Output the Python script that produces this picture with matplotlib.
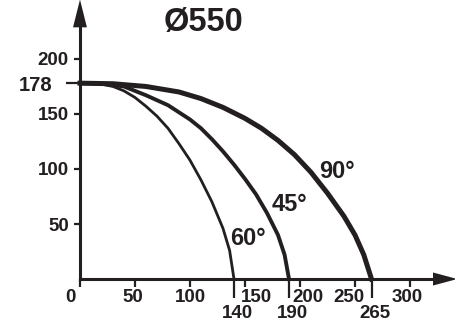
import matplotlib.pyplot as plt
from matplotlib.transforms import ScaledTranslation

# curves (x, y)
x60 = [0, 10, 20, 30, 40, 50, 60, 70, 80, 90, 100, 110, 120, 130, 136, 140]
y60 = [178, 178, 177, 175, 171, 165, 157, 148, 137, 123, 108, 90, 70, 46, 26, 0]
x45 = [0, 20, 40, 60, 80, 100, 110, 120, 130, 140, 150, 160, 170, 180, 186, 190]
y45 = [178, 177.5, 175, 167, 158, 145, 137, 127, 116, 104, 91, 77, 60, 40, 22, 0]
x90 = [0, 30, 60, 90, 110, 130, 150, 165, 180, 195, 210, 225, 240, 250, 258, 265]
y90 = [178, 177.5, 175, 170, 164, 156, 146, 137, 126, 113, 97, 78, 57, 40, 22, 0]

xticks = [0, 50, 100, 150, 200, 250, 300]
xticks_end = [140, 190, 265]
yticks = [50, 100, 150, 200]
ytick_top = [178]

ink = '#231f20'
plt.rcParams['font.family'] = ['Liberation Sans', 'DejaVu Sans']
plt.rcParams['font.weight'] = 'bold'

fig = plt.figure(figsize=(4.55, 3.25), dpi=100)
ax = fig.add_axes([0, 0, 1, 1])
ax.set_xlim(-72.7, 340.9)
ax.set_ylim(-41.8, 253.6)
ax.patch.set_alpha(0)

ax.plot(x60, y60, color=ink, lw=2.0, solid_joinstyle='round')
ax.plot(x45, y45, color=ink, lw=2.8, solid_joinstyle='round')
ax.plot(x90, y90, color=ink, lw=3.6, solid_joinstyle='round')

for s in ['top', 'right']:
    ax.spines[s].set_visible(False)
ax.spines['left'].set_position(('data', 0))
ax.spines['bottom'].set_position(('data', 0))
ax.spines['left'].set_bounds(0, 235)
ax.spines['bottom'].set_bounds(0, 325)
for s in ['left', 'bottom']:
    ax.spines[s].set_linewidth(2.2)
    ax.spines[s].set_color(ink)

# arrow heads
ax.annotate('', xy=(0, 254), xytext=(0, 225),
            arrowprops=dict(arrowstyle='-|>,head_length=2.0,head_width=0.5',
                            mutation_scale=10, lw=0, fc=ink, ec=ink,
                            shrinkA=0, shrinkB=0), annotation_clip=False)
ax.annotate('', xy=(343, 0), xytext=(315, 0),
            arrowprops=dict(arrowstyle='-|>,head_length=1.75,head_width=0.47',
                            mutation_scale=10, lw=0, fc=ink, ec=ink,
                            shrinkA=0, shrinkB=0), annotation_clip=False)

ax.set_xticks(xticks, [str(v) for v in xticks])
ax.set_xticks(xticks_end, [str(v) for v in xticks_end], minor=True)
ax.set_yticks(yticks, [str(v) for v in yticks])
ax.set_yticks(ytick_top, [str(v) for v in ytick_top], minor=True)

ax.tick_params(which='both', color=ink, labelcolor=ink, labelsize=13.5, width=1.6)
ax.tick_params(axis='x', which='major', length=5.5, pad=1.5)
ax.tick_params(axis='x', which='minor', length=14, pad=4.5)
ax.tick_params(axis='y', which='major', length=4.5, pad=3.5)
ax.tick_params(axis='y', which='minor', length=10, pad=10, labelsize=14.5)

# nudge crowded x labels sideways (pixels)
shift = {0: -10, 50: -2, 100: 0, 150: 11, 200: 8, 250: -6, 300: -3}
for v, lab in zip(xticks, ax.get_xticklabels()):
    lab.set_transform(lab.get_transform() + ScaledTranslation(shift[v] / 100, 0, fig.dpi_scale_trans))
for lab in ax.get_xticklabels(minor=True):
    lab.set_transform(lab.get_transform() + ScaledTranslation(3 / 100, 0, fig.dpi_scale_trans))

ax.text(112.7, 233.6, 'Ø550', ha='center', va='center', fontsize=23.5, color=ink)
ax.text(234, 98, '90°', ha='center', va='center', fontsize=17, color=ink)
ax.text(190, 68, '45°', ha='center', va='center', fontsize=17, color=ink)
ax.text(153, 37, '60°', ha='center', va='center', fontsize=17, color=ink)

fig.savefig('out.png', dpi=100)
